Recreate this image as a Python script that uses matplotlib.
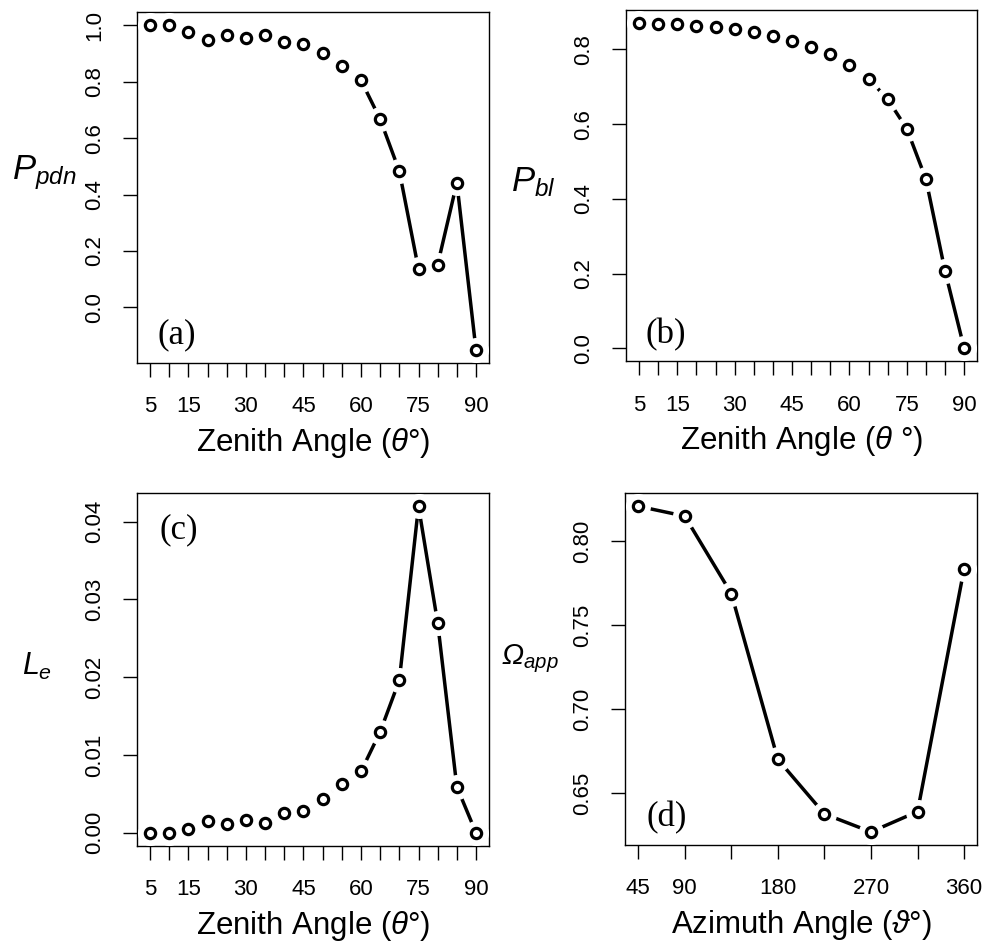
import numpy as np
import matplotlib
matplotlib.use("Agg")
import matplotlib.pyplot as plt

plt.rcParams['font.family'] = ['Liberation Sans', 'DejaVu Sans']
plt.rcParams['mathtext.fontset'] = 'custom'
plt.rcParams['mathtext.it'] = 'Liberation Sans:italic'
# greek capitals go to rm in mathtext, Omega should be italic here
plt.rcParams['mathtext.rm'] = 'Liberation Sans:italic'
plt.rcParams['mathtext.sf'] = 'Liberation Sans'

zenith = np.arange(5, 95, 5)
p_pdn = [1.0, 1.0, 0.976, 0.947, 0.967, 0.954, 0.967, 0.940, 0.935,
         0.900, 0.854, 0.805, 0.667, 0.483, 0.136, 0.152, 0.442, -0.151]
p_bl = [0.870, 0.869, 0.867, 0.864, 0.859, 0.854, 0.846, 0.836, 0.823,
        0.807, 0.788, 0.759, 0.722, 0.667, 0.588, 0.453, 0.207, 0.0]
l_e = [0.0, 0.0, 0.00047, 0.00146, 0.00107, 0.00167, 0.00128, 0.00257, 0.00283,
       0.00433, 0.00625, 0.00788, 0.01298, 0.01961, 0.04197, 0.02698, 0.00591, 0.0]
azimuth = [45, 90, 135, 180, 225, 270, 315, 360]
omega_app = [0.8208, 0.8149, 0.7688, 0.670, 0.6375, 0.6268, 0.6389, 0.7835]

zen_labels = ['5', '', '15', '', '', '30', '', '', '45', '', '', '60', '', '', '75', '', '', '90']
azi_labels = ['45', '90', '', '180', '', '270', '', '360']

fig = plt.figure(figsize=(9.86, 9.43), dpi=100)


def rplot(ax, x, y, yticks, yticklabels, xticklabels, ylabel_pos, ylabel, ylsize,
          xlabel, tag, tag_pos):
    ax.plot(x, y, color='black', lw=2.5, zorder=2, solid_capstyle='butt')
    ax.plot(x, y, ls='none', marker='o', ms=17, mfc='white', mec='white', zorder=3)
    ax.plot(x, y, ls='none', marker='o', ms=7.4, mfc='white', mec='black', mew=2.3, zorder=4)
    lo, hi = min(x), max(x)
    ax.set_xlim(lo - 0.04 * (hi - lo), hi + 0.04 * (hi - lo))
    lo, hi = min(y), max(y)
    ax.set_ylim(lo - 0.04 * (hi - lo), hi + 0.04 * (hi - lo))
    ax.set_xticks(x)
    ax.set_xticklabels(xticklabels)
    ax.set_yticks(yticks)
    ax.set_yticklabels(yticklabels, rotation=90, va='center')
    ax.tick_params(axis='both', direction='out', length=10, width=1.0,
                   labelsize=16)
    ax.tick_params(axis='x', pad=14)
    ax.tick_params(axis='y', pad=13)
    for s in ax.spines.values():
        s.set_linewidth(1.0)
    ax.set_xlabel(xlabel, fontsize=22.5)
    ax.xaxis.set_label_coords(0.5, -0.228)
    ax.xaxis.label.set_va('center')
    ax.text(tag_pos[0], tag_pos[1], tag, transform=ax.transAxes, ha='left',
            va='center', fontsize=25, family='Liberation Serif')
    fig.text(ylabel_pos[0], ylabel_pos[1], ylabel, ha='left', va='center',
             fontsize=ylsize)


ax1 = fig.add_axes([0.139, 0.615, 0.357, 0.372])
rplot(ax1, zenith, p_pdn, [0.0, 0.2, 0.4, 0.6, 0.8, 1.0],
      ['0.0', '0.2', '0.4', '0.6', '0.8', '1.0'], zen_labels,
      (0.012, 0.817), r'$P_{pdn}$', 25, r'Zenith Angle ($\theta$°)', '(a)', (0.057, 0.08))

ax2 = fig.add_axes([0.635, 0.617, 0.356, 0.372])
rplot(ax2, zenith, p_bl, [0.0, 0.2, 0.4, 0.6, 0.8],
      ['0.0', '0.2', '0.4', '0.6', '0.8'], zen_labels,
      (0.518, 0.807), r'$P_{bl}$', 25, r'Zenith Angle ($\theta$ °)', '(b)', (0.054, 0.074))

ax3 = fig.add_axes([0.139, 0.103, 0.357, 0.374])
rplot(ax3, zenith, l_e, [0.0, 0.01, 0.02, 0.03, 0.04],
      ['0.00', '0.01', '0.02', '0.03', '0.04'], zen_labels,
      (0.022, 0.293), r'$L_e$', 22, r'Zenith Angle ($\theta$°)', '(c)', (0.0625, 0.895))

ax4 = fig.add_axes([0.634, 0.104, 0.357, 0.373])
rplot(ax4, azimuth, omega_app, [0.65, 0.70, 0.75, 0.80],
      ['0.65', '0.70', '0.75', '0.80'], azi_labels,
      (0.508, 0.302), r'$\Omega_{app}$', 21, r'Azimuth Angle ($\vartheta$°)', '(d)', (0.06, 0.077))

fig.savefig('out.png', dpi=100)
